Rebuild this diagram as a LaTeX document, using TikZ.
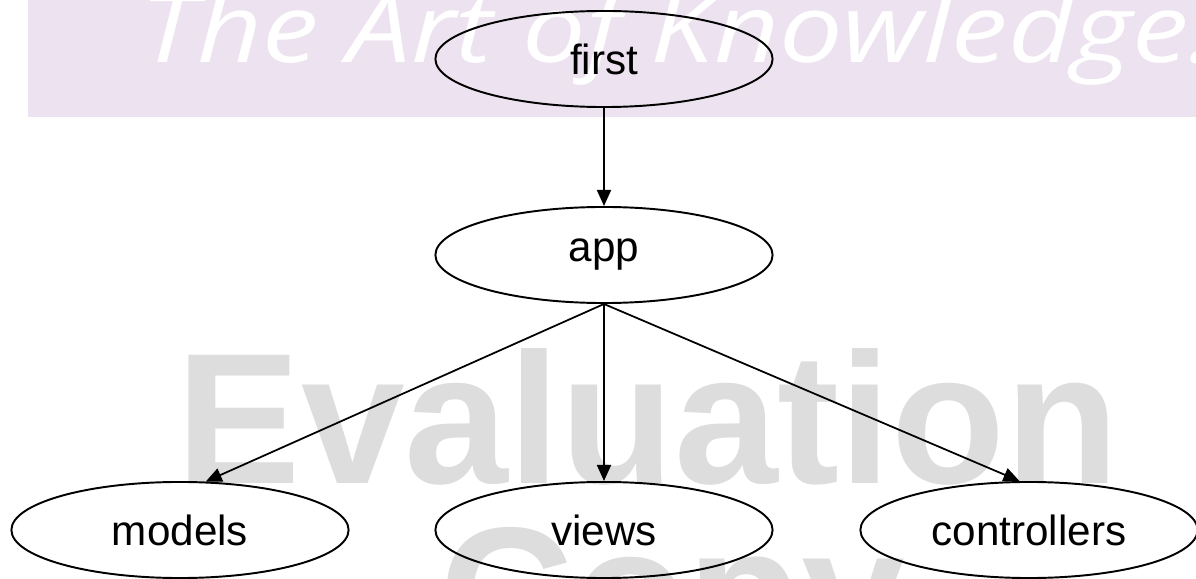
\documentclass[tikz,border=0pt]{standalone}
\usepackage{fontspec}
\setmainfont{Liberation Sans}
\newfontfamily\wmfont{Open Sans}
\newfontfamily\wmbold{Liberation Sans}
\usetikzlibrary{shapes.geometric,arrows.meta}
\definecolor{bandcol}{RGB}{237,227,240}
\definecolor{wmgray}{RGB}{221,221,221}
\tikzset{
  nd/.style={draw=black, ellipse, line width=0.55pt, minimum width=3.37cm, minimum height=0.96cm, inner sep=0pt, font=\fontsize{12}{14}\selectfont},
  edge/.style={draw=black, line width=0.5pt, -{Triangle[length=0.16cm, width=0.14cm]}},
  wmbig/.style={anchor=base, inner sep=0pt, text=wmgray, font=\wmbold\bfseries\fontsize{53}{56}\selectfont},
}
\begin{document}
\begin{tikzpicture}[x=0.01cm, y=-0.01cm]
\useasboundingbox (0,0) rectangle (1196,579);
\begin{scope}
\clip (0,0) rectangle (1196,579);
\fill[bandcol] (28,0) rectangle (1196,117);
\node[anchor=base west, inner sep=0pt, xscale=1.19, text=white, font=\wmfont\itshape\fontsize{27}{30}\selectfont] (wm1) at (140,63) {The Art of Knowledge.};
\node[wmbig] (wm2) at (648,484) {Evaluation};
\node[wmbig] (wm3) at (672,658) {Copy};
\end{scope}
\node[nd] (first) at (604,59) {first};
\node[nd] (app) at (604,255) {app};
\node[nd] (models) at (180,530) {models};
\node[nd] (views) at (604,530) {views};
\node[nd] (controllers) at (1029,530) {controllers};
\draw[edge] (first.south) -- (app.north);
\draw[edge] (app.south) -- (models.62);
\draw[edge] (app.south) -- (views.north);
\draw[edge] (app.south) -- (controllers.101);
\end{tikzpicture}
\end{document}
